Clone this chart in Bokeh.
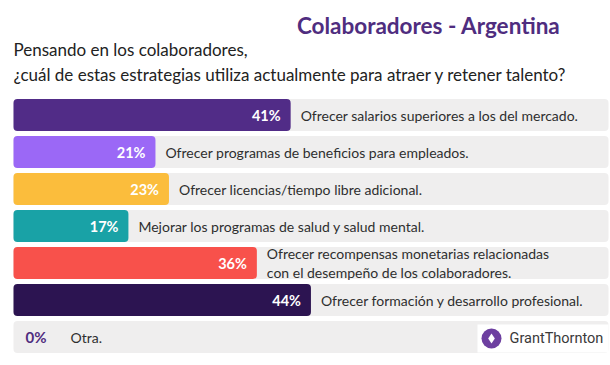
from bokeh.plotting import figure
from bokeh.models import Range1d
from bokeh.core.properties import value
from bokeh.embed import file_html
from bokeh.resources import INLINE

# ---- data ----
categories = [
    "Ofrecer salarios superiores a los del mercado.",
    "Ofrecer programas de beneficios para empleados.",
    "Ofrecer licencias/tiempo libre adicional.",
    "Mejorar los programas de salud y salud mental.",
    "Ofrecer recompensas monetarias relacionadas\ncon el desempeño de los colaboradores.",
    "Ofrecer formación y desarrollo profesional.",
    "Otra.",
]
values = [41, 21, 23, 17, 36, 44, 0]
colors = ["#512c87", "#9b68f6", "#fbbd3c", "#19a2a6", "#f8514b", "#2c1451", "#efeeee"]
title_text = "Colaboradores - Argentina"
subtitle_lines = ["Pensando en los colaboradores,",
                  "¿cuál de estas estrategias utiliza actualmente para atraer y retener talento?"]

# ---- layout (page pixels -> data) ----
W, H = 610, 365
PX0 = 13.0      # page x for 0 %
SC = 6.76       # px per %
PY0 = 114.5     # page y of first row center
PITCH = 37.0

def xd(px):
    return (px - PX0) / SC

def yd(py):
    return (py - PY0) / PITCH

FONT = "Lato"

p = figure(width=W, height=H, output_backend="svg", toolbar_location=None,
           x_range=Range1d(xd(0), xd(W)), y_range=Range1d(yd(H), yd(0)),
           min_border=0)
p.axis.visible = False
p.grid.visible = False
p.outline_line_color = None
p.background_fill_color = "white"
p.border_fill_color = "white"

rows = list(range(len(values)))
bar_h = 32.0 / PITCH

# grey backgrounds
p.hbar(y=rows, left=0, right=xd(608), height=bar_h, fill_color="#efeeee",
       line_color=None, border_radius=4)

nz = [i for i, v in enumerate(values) if v > 0]
zz = [i for i, v in enumerate(values) if v == 0]

p.hbar(y=[rows[i] for i in nz], left=0, right=[values[i] for i in nz], height=bar_h,
       fill_color=[colors[i] for i in nz], line_color=None, border_radius=4)

# percentage labels inside bars
p.text(x=[values[i] for i in nz], y=[rows[i] for i in nz], text=[f"{values[i]}%" for i in nz],
       x_offset=-10, text_align="right", text_baseline="middle",
       text_color="white", text_font=value(FONT), text_font_style="bold",
       text_font_size="14.5px")
# category labels
p.text(x=[values[i] for i in nz], y=[rows[i] for i in nz], text=[categories[i] for i in nz],
       x_offset=10, text_align="left", text_baseline="middle",
       text_color="#2e2e2e", text_font=value(FONT), text_font_size="14px",
       text_line_height=1.15)

# zero row
p.text(x=[values[i] for i in zz], y=[rows[i] for i in zz], text=[f"{values[i]}%" for i in zz],
       x_offset=12, text_align="left", text_baseline="middle",
       text_color="#4f2d7f", text_font=value(FONT), text_font_style="bold",
       text_font_size="15px")
p.text(x=[values[i] for i in zz], y=[rows[i] for i in zz], text=[categories[i] for i in zz],
       x_offset=57, text_align="left", text_baseline="middle",
       text_color="#2e2e2e", text_font=value(FONT), text_font_size="14px")

# title and subtitle
p.text(x=[xd(560)], y=[yd(25)], text=[title_text], text_align="right", text_baseline="middle",
       text_color="#4f2d7f", text_font=value(FONT), text_font_style="bold",
       text_font_size="22.5px")
p.text(x=[xd(13)] * 2, y=[yd(49), yd(74)], text=subtitle_lines, text_align="left",
       text_baseline="middle", text_color="#222222", text_font=value(FONT),
       text_font_size="17px")

# logo
p.quad(left=[xd(477)], right=[xd(608)], top=[yd(324)], bottom=[yd(352)],
       fill_color="white", line_color=None)
p.scatter(x=[xd(491)], y=[yd(338)], size=20, marker="circle",
          fill_color="#6d3fa0", line_color=None)
p.scatter(x=[xd(491)], y=[yd(338)], size=10, marker="diamond",
          fill_color="white", line_color=None)
p.text(x=[xd(509)], y=[yd(338)], text=["GrantThornton"], text_align="left",
       text_baseline="middle", text_color="#3a3a3a", text_font=value("Roboto"),
       text_font_size="14.5px")

open("out.html", "w").write(file_html(p, INLINE))
